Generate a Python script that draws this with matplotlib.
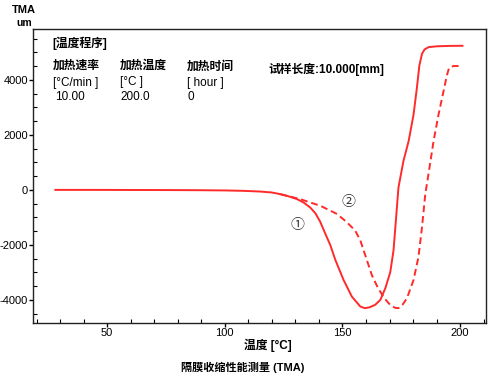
import numpy as np
import matplotlib.pyplot as plt
from matplotlib.ticker import MultipleLocator

plt.rcParams['font.family'] = ['Liberation Sans', 'Noto Sans CJK SC', 'DejaVu Sans']
plt.rcParams['axes.unicode_minus'] = False

# curve 1 (solid) - temperature [C], displacement [um]
t1 = [28, 45, 60, 75, 90, 100, 108, 115, 120, 123.6, 127, 130.7, 133.5, 136.3, 138.5, 140.5, 142.5,
      144.8, 147.0, 150.5, 154.0, 157.6, 159.5, 161.5, 163.9, 166.1, 168.2, 170.3, 171.7, 172.7,
      173.8, 175.9, 178.1, 180.2, 181.6, 182.7, 183.8, 184.9, 186.6, 190, 195, 201]
d1 = [0, 0, -3, -6, -12, -20, -35, -60, -95, -155, -230, -335, -460, -640, -850, -1150, -1550,
      -2000, -2550, -3280, -3881, -4242, -4300, -4270, -4180, -4000, -3579, -3000, -2200, -1117,
      83, 1045, 1766, 2728, 3687, 4530, 4948, 5107, 5190, 5220, 5235, 5240]

# curve 2 (dashed)
t2 = [123.6, 127, 132.1, 136, 140.6, 144, 147.7, 151.9, 155.4, 157.6, 159.7, 162.5, 165.0, 167.5,
      169.6, 171.0, 172.5, 173.8, 175.5, 177.4, 180.2, 182.3, 183.8, 185.2, 187.3, 188.7, 190.8,
      192.9, 194.4, 195.3, 197.2, 201]
d2 = [-155, -230, -335, -450, -577, -720, -876, -1178, -1478, -1838, -2379, -3100, -3550, -3900,
      -4120, -4230, -4290, -4300, -4180, -3940, -3280, -2440, -1359, -155, 984, 1766, 2728,
      3568, 4170, 4433, 4505, 4505]

red = '#ff2a2a'

fig = plt.figure(figsize=(5, 3.8), dpi=100)
ax = fig.add_axes([33/500, 1-323/380, (486-33)/500, (323-29)/380])

ax.plot(t1, d1, color=red, lw=1.4)
ax.plot(t2, d2, color=red, lw=1.4, linestyle=(0, (3.5, 2)))

ax.set_xlim(18.5, 211)
ax.set_ylim(-4840, 5850)
ax.xaxis.set_major_locator(MultipleLocator(50))
ax.xaxis.set_minor_locator(MultipleLocator(10))
ax.yaxis.set_major_locator(MultipleLocator(2000))
ax.yaxis.set_minor_locator(MultipleLocator(500))
ax.tick_params(which='major', direction='out', length=3, width=1, labelsize=8, pad=0.5)
ax.tick_params(which='minor', direction='in', length=3, width=0.8)
for s in ax.spines.values():
    s.set_linewidth(1.0)
    s.set_color('#222222')

ax.text(130.9, -1261, '①', fontsize=10, ha='center', va='center', family=['Noto Sans CJK SC'], color='#333333')
ax.text(152.6, -458, '②', fontsize=10, ha='center', va='center', family=['Noto Sans CJK SC'], color='#333333')

def ft(x, y, s, size=8.5, weight='bold', ha='left'):
    fig.text(x/500, 1-y/380, s, fontsize=size, weight=weight, ha=ha, va='center')

ft(24, 10, 'TMA', size=8, ha='center')
ft(24, 23, 'um', size=7.5, ha='center')
ft(52, 43, '[温度程序]')
ft(53, 66, '加热速率')
ft(120, 66, '加热温度')
ft(187, 67, '加热时间')
ft(53, 83, '[°C/min ]', weight='normal')
ft(120, 82, '[°C ]', weight='normal')
ft(187, 83, '[ hour ]', weight='normal')
ft(55, 97, '10.00', weight='normal')
ft(120, 97, '200.0', weight='normal')
ft(188, 97, '0', weight='normal')
ft(268, 69, '试样长度:10.000[mm]')
ft(268, 345, '温度 [°C]', size=8.5, ha='center')
ft(243, 367, '隔膜收缩性能测量 (TMA)', size=8, ha='center')

fig.savefig('out.png', dpi=100)
